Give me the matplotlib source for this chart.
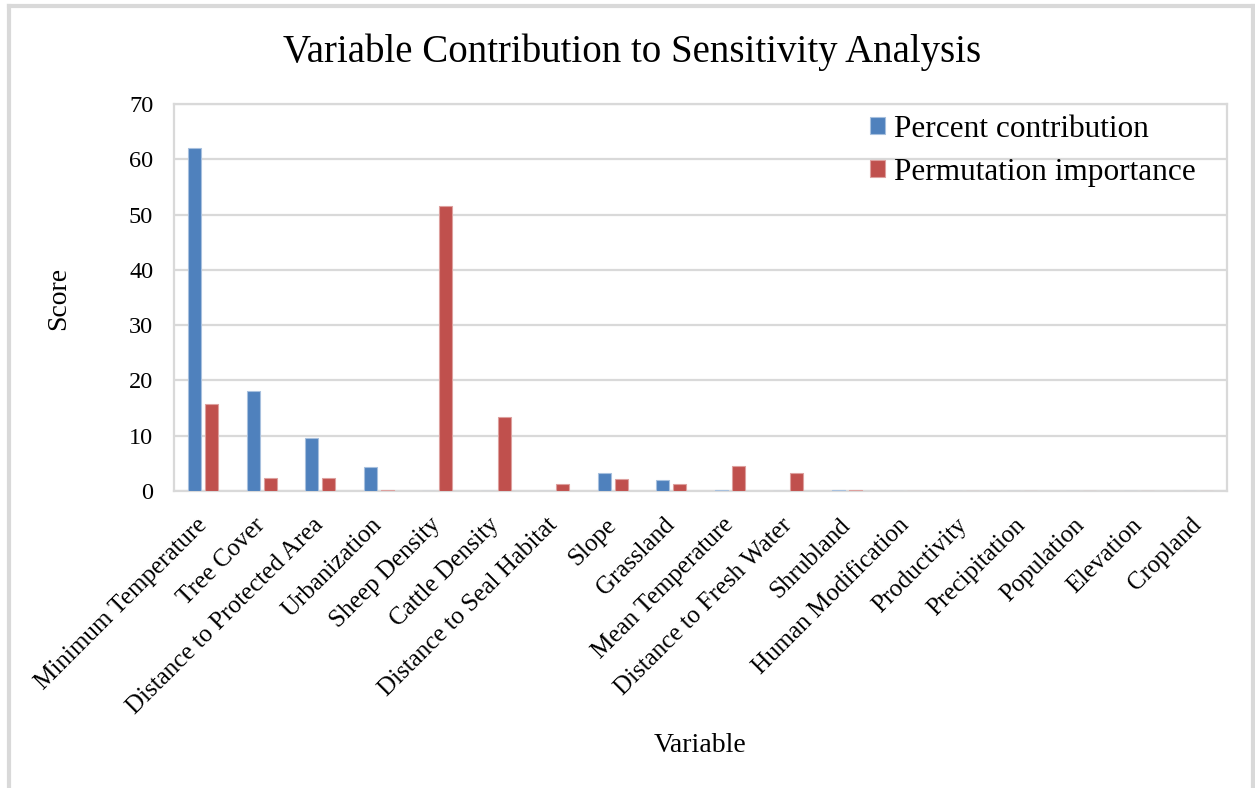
import matplotlib
matplotlib.use("Agg")
import matplotlib.pyplot as plt
from matplotlib.lines import Line2D
import numpy as np

plt.rcParams['font.family'] = ['Liberation Serif', 'DejaVu Serif']

variables = [
    "Minimum Temperature", "Tree Cover", "Distance to Protected Area",
    "Urbanization", "Sheep Density", "Cattle Density",
    "Distance to Seal Habitat", "Slope", "Grassland", "Mean Temperature",
    "Distance to Fresh Water", "Shrubland", "Human Modification",
    "Productivity", "Precipitation", "Population", "Elevation", "Cropland",
]
percent_contribution = [62.0, 18.0, 9.6, 4.3, 0.0, 0.0, 0.0, 3.2, 1.9, 0.25,
                        0.0, 0.1, 0.0, 0.0, 0.0, 0.0, 0.0, 0.0]
permutation_importance = [15.7, 2.4, 2.4, 0.25, 51.6, 13.4, 1.3, 2.1, 1.3, 4.6,
                          3.3, 0.25, 0.0, 0.0, 0.0, 0.0, 0.0, 0.0]
y_ticks = [0, 10, 20, 30, 40, 50, 60, 70]

BLUE = "#4F81BD"
RED = "#C0504D"
GRID = "#D9D9D9"

fig = plt.figure(figsize=(12.55, 7.88), dpi=100)
ax = fig.add_axes([174 / 1255, 1 - 491 / 788, (1227 - 174) / 1255, (491 - 104) / 788])

x = np.arange(len(variables))
w = 0.22
off = 0.145
ax.bar(x - off, percent_contribution, width=w, color=BLUE, edgecolor="#A7C0DE",
       linewidth=0.8, label="Percent contribution", zorder=3)
ax.bar(x + off, permutation_importance, width=w, color=RED, edgecolor="#DDA09E",
       linewidth=0.8, label="Permutation importance", zorder=3)

ax.set_xlim(-0.5, len(variables) - 0.5)
ax.set_ylim(0, 70)
ax.set_yticks(y_ticks)
ax.set_yticklabels([str(t) for t in y_ticks], fontsize=17.5)
ax.yaxis.grid(True, color=GRID, linewidth=1.6, zorder=0)
ax.set_axisbelow(True)
ax.tick_params(axis="y", length=0, pad=15)
ax.tick_params(axis="x", length=0, pad=22)
ax.set_xticks(x)
ax.set_xticklabels(variables, rotation=45, ha="right", va="center",
                   rotation_mode="anchor", fontsize=18)
for s in ax.spines.values():
    s.set_color(GRID)
    s.set_linewidth(1.6)

fig.text(59 / 1255, 1 - 298 / 788, "Score", ha="center", va="center",
         rotation=90, fontsize=20)
fig.text(700 / 1255, 1 - 745 / 788, "Variable", ha="center", va="center", fontsize=20)
fig.text(632 / 1255, 1 - 52 / 788, "Variable Contribution to Sensitivity Analysis",
         ha="center", va="center", fontsize=28)

leg = ax.legend(loc="upper left", bbox_to_anchor=((870 - 174) / 1053, 0.972),
                frameon=False, fontsize=22.5, handlelength=0.48, handleheight=0.48,
                handletextpad=0.28, labelspacing=0.44, borderpad=0, borderaxespad=0)

# outer chart frame
for xs, ys in [([9, 9], [6, 800]), ([9, 1253], [6, 6]), ([1253, 1253], [6, 800])]:
    fig.add_artist(Line2D([v / 1255 for v in xs], [1 - v / 788 for v in ys],
                          color=GRID, linewidth=3))

fig.savefig("out.png", dpi=100, facecolor="white")
